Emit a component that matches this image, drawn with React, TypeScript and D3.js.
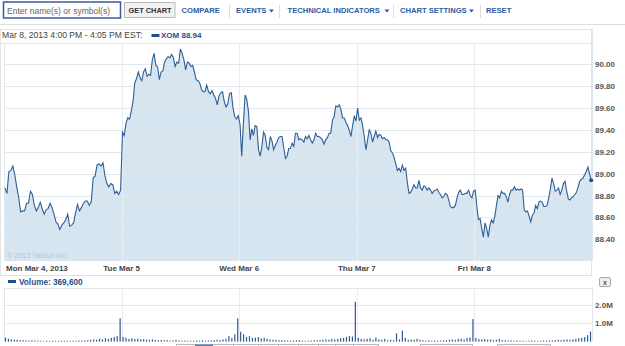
import React from 'react';
import * as d3 from 'd3';

const dayLabels = ['Mon Mar 4, 2013', 'Tue Mar 5', 'Wed Mar 6', 'Thu Mar 7', 'Fri Mar 8'];
const priceTicks = [88.4, 88.6, 88.8, 89.0, 89.2, 89.4, 89.6, 89.8, 90.0];
const volumeTicks = [1, 2];
const navLinks = ['COMPARE', 'EVENTS', 'TECHNICAL INDICATORS', 'CHART SETTINGS', 'RESET'];

const monPrice = [88.87, 88.82, 89.02, 89.03, 89.07, 88.99, 88.88, 88.78, 88.65, 88.66, 88.66, 88.73, 88.73, 88.84, 88.81, 88.71, 88.66, 88.69, 88.74, 88.68, 88.63, 88.67, 88.68, 88.73, 88.69, 88.63, 88.56, 88.54, 88.49, 88.53, 88.55, 88.58, 88.63, 88.52, 88.53, 88.55, 88.64, 88.72, 88.66, 88.69, 88.73, 88.75, 88.75, 88.71, 88.74, 88.96, 88.98, 89.08, 89.09, 89.07, 89.10, 88.98, 88.91, 88.88, 88.91, 88.90, 88.82, 88.84, 88.81, 88.85];
const tuePrice = [89.38, 89.35, 89.46, 89.51, 89.50, 89.57, 89.66, 89.83, 89.87, 89.93, 89.88, 89.85, 89.93, 89.96, 89.89, 89.91, 89.90, 90.04, 90.10, 89.99, 89.98, 89.86, 89.93, 89.94, 90.02, 90.05, 90.07, 90.06, 90.09, 90.06, 89.98, 90.02, 90.01, 90.14, 90.10, 90.04, 89.95, 90.02, 90.01, 89.98, 89.99, 89.93, 89.86, 89.85, 89.83, 89.77, 89.75, 89.75, 89.81, 89.75, 89.73, 89.76, 89.72, 89.69, 89.63, 89.71, 89.74, 89.75, 89.66, 89.61, 89.64, 89.73, 89.74, 89.60, 89.52, 89.50, 89.53];
const wedPrice = [89.45, 89.16, 89.46, 89.72, 89.68, 89.57, 89.31, 89.41, 89.35, 89.44, 89.43, 89.22, 89.16, 89.25, 89.38, 89.35, 89.24, 89.22, 89.34, 89.30, 89.22, 89.26, 89.29, 89.33, 89.34, 89.34, 89.24, 89.14, 89.16, 89.23, 89.23, 89.28, 89.25, 89.37, 89.37, 89.31, 89.32, 89.31, 89.29, 89.34, 89.32, 89.35, 89.31, 89.28, 89.31, 89.37, 89.34, 89.34, 89.33, 89.31, 89.27, 89.31, 89.33, 89.37, 89.37, 89.49, 89.52, 89.62, 89.61, 89.63, 89.59, 89.51, 89.51, 89.47, 89.44, 89.40, 89.34, 89.44, 89.53, 89.48];
const thuPrice = [89.60, 89.49, 89.51, 89.44, 89.34, 89.22, 89.31, 89.40, 89.37, 89.29, 89.34, 89.39, 89.33, 89.36, 89.35, 89.32, 89.33, 89.31, 89.31, 89.29, 89.21, 89.19, 89.15, 89.09, 89.03, 89.05, 89.02, 89.08, 89.03, 89.05, 88.92, 88.82, 88.83, 88.86, 88.90, 88.87, 88.87, 88.94, 88.87, 88.85, 88.89, 88.88, 88.85, 88.87, 88.85, 88.82, 88.84, 88.85, 88.86, 88.83, 88.81, 88.78, 88.79, 88.82, 88.81, 88.76, 88.70, 88.69, 88.69, 88.71, 88.78, 88.83, 88.85, 88.81, 88.81, 88.82, 88.82, 88.85, 88.80, 88.78, 88.84];
const friPrice = [88.85, 88.70, 88.58, 88.59, 88.50, 88.42, 88.55, 88.50, 88.42, 88.53, 88.58, 88.55, 88.61, 88.71, 88.80, 88.78, 88.84, 88.82, 88.82, 88.79, 88.74, 88.81, 88.85, 88.85, 88.88, 88.85, 88.86, 88.85, 88.86, 88.85, 88.67, 88.65, 88.66, 88.61, 88.56, 88.62, 88.64, 88.71, 88.68, 88.74, 88.75, 88.74, 88.70, 88.70, 88.71, 88.78, 88.86, 88.96, 88.91, 88.84, 88.85, 88.87, 88.81, 88.85, 88.91, 88.93, 88.84, 88.77, 88.76, 88.78, 88.79, 88.81, 88.83, 88.88, 88.93, 88.95, 88.96, 88.99, 89.02, 89.06, 89.00, 88.94];

// volume in millions
const monVolume = [0.22, 0.15, 0.12, 0.1, 0.1, 0.08, 0.08, 0.07, 0.06, 0.07, 0.06, 0.05, 0.05, 0.04, 0.05, 0.04, 0.05, 0.04, 0.04, 0.05, 0.06, 0.05, 0.04, 0.05, 0.05, 0.06, 0.06, 0.07, 0.08, 0.1, 0.12, 0.1, 0.15, 0.12, 0.18, 0.14, 0.2, 0.25, 0.3, 1.27];
const tueVolume = [0.25, 0.2, 0.15, 0.18, 0.14, 0.16, 0.12, 0.13, 0.11, 0.1, 0.12, 0.09, 0.08, 0.09, 0.07, 0.08, 0.06, 0.07, 0.1, 0.06, 0.05, 0.06, 0.05, 0.04, 0.05, 0.06, 0.05, 0.08, 0.05, 0.06, 0.07, 0.08, 0.1, 0.09, 0.12, 0.15, 0.3, 0.2, 0.4, 1.27];
const wedVolume = [0.54, 0.4, 0.25, 0.3, 0.2, 0.22, 0.25, 0.18, 0.2, 0.15, 0.12, 0.1, 0.1, 0.08, 0.08, 0.07, 0.06, 0.05, 0.06, 0.07, 0.08, 0.05, 0.04, 0.05, 0.06, 0.08, 0.07, 0.08, 0.1, 0.12, 0.1, 0.14, 0.12, 0.15, 0.18, 0.2, 0.25, 0.3, 0.28, 2.18];
const thuVolume = [0.2, 0.15, 0.12, 0.15, 0.18, 0.1, 0.22, 0.12, 0.1, 0.15, 0.08, 0.1, 0.08, 0.45, 0.12, 0.6, 0.2, 0.1, 0.12, 0.1, 0.15, 0.1, 0.08, 0.06, 0.07, 0.05, 0.06, 0.05, 0.06, 0.07, 0.08, 0.1, 0.12, 0.1, 0.14, 0.15, 0.12, 0.2, 0.22, 1.23];
const friVolume = [0.2, 0.15, 0.12, 0.14, 0.1, 0.12, 0.08, 0.1, 0.15, 0.08, 0.07, 0.06, 0.07, 0.05, 0.06, 0.05, 0.05, 0.04, 0.05, 0.06, 0.05, 0.04, 0.05, 0.06, 0.05, 0.07, 0.06, 0.08, 0.1, 0.08, 0.1, 0.12, 0.1, 0.12, 0.15, 0.18, 0.2, 0.25, 0.35, 0.55];

const FONT = '"Liberation Sans", Arial, sans-serif';

export default function App() {
  const W = 625, H = 346;
  const left = 4, right = 592;
  const pTop = 43, pBot = 261;
  const vTop = 288, vBot = 341.6;
  const x = d3.scaleLinear().domain([0, 5]).range([left, right]);
  const y = d3.scaleLinear().domain([88.202, 90.195]).range([pBot, pTop]);
  const yv = d3.scaleLinear().domain([0, 2.93]).range([vBot, vTop]);

  const priceDays = [monPrice, tuePrice, wedPrice, thuPrice, friPrice];
  const volDays = [monVolume, tueVolume, wedVolume, thuVolume, friVolume];
  const pts = priceDays.flatMap((arr, d) => arr.map((v, i) => ({ t: d + (i + 0.5) / arr.length, v })));
  const vols = volDays.flatMap((arr, d) => arr.map((v, i) => ({ t: d + (i + 0.5) / arr.length, v })));

  const line = d3.line<any>().x((p) => x(p.t)).y((p) => y(p.v));
  const area = d3.area<any>().x((p) => x(p.t)).y0(pBot).y1((p) => y(p.v));
  const last = pts[pts.length - 1];

  const grid = '#dfe7ef';
  const blue = '#1f4f8f';
  const navX = [181.5, 236, 287.5, 400, 486];
  const triX = [269, 384.5, 469];
  const sepX = [229, 279, 393, 480];

  return (
    <div style={{ position: 'fixed', left: 0, top: 0, width: W, height: H, background: '#fff' }}>
      <svg width={W} height={H} style={{ display: 'block', fontFamily: FONT }}>
        {/* toolbar */}
        <rect x={3.5} y={2} width={117} height={16} fill="#fff" stroke="#3a5a9c" strokeWidth={1.5} />
        <text x={7} y={13.5} fontSize={8.5} fill="#666">Enter name(s) or symbol(s)</text>
        <rect x={124.5} y={2.5} width={50.5} height={15} fill="#f1f1f1" stroke="#bbb" />
        <text x={128.5} y={13.3} fontSize={7.4} fontWeight="bold" fill="#333">GET CHART</text>
        {navLinks.map((t, i) => (
          <text key={t} x={navX[i]} y={13.3} fontSize={7.6} fontWeight="bold" fill="#2b5c9e">{t}</text>
        ))}
        {triX.map((tx) => (
          <path key={tx} d={`M${tx},9.5 L${tx + 5},9.5 L${tx + 2.5},12.5 Z`} fill="#2b5c9e" />
        ))}
        {sepX.map((sx) => (
          <line key={sx} x1={sx + 0.5} x2={sx + 0.5} y1={5} y2={18} stroke="#ddd" />
        ))}
        <line x1={0} x2={W} y1={24.5} y2={24.5} stroke="#ddd" />

        {/* panel */}
        <rect x={0.5} y={29.5} width={591} height={246} fill="none" stroke="#e4e4e4" />
        <text x={2} y={38} fontSize={8.6} fill="#444">Mar 8, 2013 4:00 PM - 4:05 PM EST:</text>
        <rect x={151.5} y={34} width={8} height={3} fill={blue} />
        <text x={161} y={38} fontSize={8} fontWeight="bold" fill={blue}>XOM 88.94</text>
        <line x1={0} x2={592} y1={pTop + 0.5} y2={pTop + 0.5} stroke="#e4e4e4" />

        {/* price area */}
        <path d={area(pts) || ''} fill="#d6e5f0" />
        {priceTicks.map((v) => (
          <line key={v} x1={left} x2={right} y1={Math.round(y(v)) + 0.5} y2={Math.round(y(v)) + 0.5} stroke={grid} />
        ))}
        {[1, 2, 3, 4].map((d) => (
          <line key={d} x1={Math.round(x(d)) + 0.5} x2={Math.round(x(d)) + 0.5} y1={pTop} y2={pBot} stroke="#e6edf3" />
        ))}
        <line x1={left + 0.5} x2={left + 0.5} y1={pTop} y2={pBot} stroke={grid} />
        <line x1={right + 0.5} x2={right + 0.5} y1={29} y2={pBot} stroke={grid} />
        <text x={7} y={258} fontSize={7.2} fill="#b9c7d3">© 2013 Yahoo! Inc.</text>
        <path d={line(pts) || ''} fill="none" stroke="#2f5f96" strokeWidth={1.1} />
        <circle cx={x(last.t)} cy={y(last.v)} r={2} fill={blue} />
        {priceTicks.map((v) => (
          <text key={v} x={595} y={y(v) + 3} fontSize={8} fontWeight="bold" fill="#555">{v.toFixed(2)}</text>
        ))}

        {/* day labels */}
        {dayLabels.map((t, d) => (
          <text key={t} x={d === 0 ? 6 : x(d)} y={271} fontSize={8} fontWeight="bold" fill="#444"
            textAnchor={d === 0 ? 'start' : 'middle'}>{t}</text>
        ))}
        <line x1={0} x2={592} y1={275.5} y2={275.5} stroke="#e0e0e0" />

        {/* volume */}
        <rect x={8} y={280} width={8} height={3} fill={blue} />
        <text x={19} y={285} fontSize={8.2} fontWeight="bold" fill={blue}>Volume: 369,600</text>
        <rect x={599.5} y={277.5} width={11} height={9} rx={1.5} fill="#eee" stroke="#aaa" />
        <text x={605} y={284.5} fontSize={7} fontWeight="bold" fill="#555" textAnchor="middle">x</text>
        <line x1={left} x2={right} y1={vTop + 0.5} y2={vTop + 0.5} stroke={grid} />
        {volumeTicks.map((v) => (
          <line key={v} x1={left} x2={right} y1={Math.round(yv(v)) + 0.5} y2={Math.round(yv(v)) + 0.5} stroke={grid} />
        ))}
        {[1, 2, 3, 4].map((d) => (
          <line key={d} x1={Math.round(x(d)) + 0.5} x2={Math.round(x(d)) + 0.5} y1={vTop} y2={vBot} stroke="#e6edf3" />
        ))}
        <line x1={left + 0.5} x2={left + 0.5} y1={vTop} y2={vBot} stroke={grid} />
        <line x1={right + 0.5} x2={right + 0.5} y1={vTop} y2={vBot} stroke={grid} />
        {vols.map((p, i) => (
          <rect key={i} x={x(p.t) - 0.6} y={yv(p.v)} width={1.2} height={vBot - yv(p.v)} fill="#2c5a90" />
        ))}
        {volumeTicks.map((v) => (
          <text key={v} x={595} y={yv(v) + 3} fontSize={8} fontWeight="bold" fill="#555">{v.toFixed(1)}M</text>
        ))}

        {/* bottom controls (cut off) */}
        <rect x={176.5} y={344.5} width={202} height={10} fill="#f5f5f5" stroke="#bbb" />
        <rect x={195} y={344.5} width={18} height={10} fill="#5a7aa3" />
        {[233, 258, 278, 298, 318, 335, 353].map((sx) => (
          <line key={sx} x1={sx + 0.5} x2={sx + 0.5} y1={344} y2={346} stroke="#bbb" />
        ))}
        <rect x={420.5} y={344.5} width={52} height={10} fill="#f5f5f5" stroke="#bbb" />
        <rect x={497.5} y={344.5} width={53} height={10} fill="#f5f5f5" stroke="#bbb" />
      </svg>
    </div>
  );
}
